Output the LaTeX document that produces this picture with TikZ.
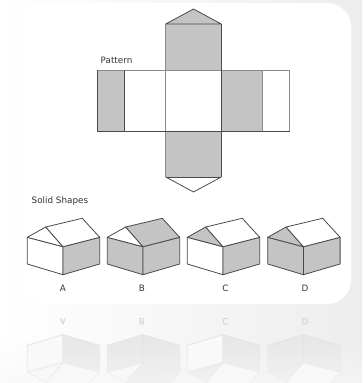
\documentclass[tikz,border=0pt]{standalone}
\usepackage{fontspec}
\usetikzlibrary{fadings}
\setmainfont{DejaVu Sans}
\definecolor{panelgray}{HTML}{C4C4C4}
\definecolor{linedark}{HTML}{4A4A4A}
\definecolor{linesoft}{HTML}{8A8A8A}
\definecolor{textcol}{HTML}{333333}
\colorlet{facegray}{panelgray}
\colorlet{facewhite}{white}
\colorlet{edgecol}{linedark}
\colorlet{labelcol}{textcol}
\tikzfading[name=fadedown,top color=transparent!100,bottom color=transparent!35]
\tikzset{
  x=1pt,y=-1pt,
  edge/.style={draw=edgecol,line width=0.8pt,line join=round},
  soft/.style={draw=linesoft,line width=1pt,line join=round},
  lbl/.style={font=\fontsize{8.8pt}{10pt}\selectfont,text=labelcol,inner sep=0pt},
}
% #1 x offset, #2 left wall, #3 right wall, #4 gable, #5 roof
\newcommand{\myhouse}[5]{%
  \begin{scope}[xshift=#1pt]
    \coordinate (L) at (27.3,237.3);
    \coordinate (Ra) at (45.7,227);
    \coordinate (Rb) at (82.3,218.3);
    \coordinate (C) at (99.7,237.3);
    \coordinate (F) at (63,246.7);
    \coordinate (B) at (63,274.7);
    \coordinate (BL) at (27.3,264);
    \coordinate (BR) at (99.7,264);
    \path[edge,fill=#2] (L) -- (F) -- (B) -- (BL) -- cycle;
    \path[edge,fill=#3] (F) -- (C) -- (BR) -- (B) -- cycle;
    \path[edge,fill=#4] (L) -- (Ra) -- (F) -- cycle;
    \path[edge,fill=#5] (Ra) -- (Rb) -- (C) -- (F) -- cycle;
  \end{scope}}
\newcommand{\allhouses}{%
  \myhouse{0}{facewhite}{facegray}{facewhite}{facewhite}
  \myhouse{80}{facegray}{facegray}{facewhite}{facegray}
  \myhouse{160}{facewhite}{facegray}{facegray}{facewhite}
  \myhouse{240.4}{facegray}{facegray}{facegray}{facewhite}}
\begin{document}
\begin{tikzpicture}
\useasboundingbox (0,0) rectangle (362,383);
\clip (0,0) rectangle (362,383);
% background
\shade[left color=white,right color=black!7] (0,0) rectangle (362,383);
% reflection
\begin{scope}[yshift=-609.4pt,yscale=-1]
  \colorlet{facegray}{black!9}
  \colorlet{facewhite}{black!2}
  \colorlet{edgecol}{black!11}
  \colorlet{labelcol}{black!20}
  \allhouses
  \node[lbl,transform shape] (refA) at (63,288) {A};
  \node[lbl,transform shape] (refB) at (142,288) {B};
  \node[lbl,transform shape] (refC) at (225.5,288) {C};
  \node[lbl,transform shape] (refD) at (305,288) {D};
\end{scope}
% the reflection fades out downwards
\fill[black!3,path fading=fadedown] (0,340) rectangle (362,383);
% white card
\fill[white,rounded corners=24pt] (20,3) rectangle (351,304);
% pattern
\fill[panelgray] (97.5,70) rectangle (124.5,131);
\fill[panelgray] (221.3,70) rectangle (262.7,131);
\fill[panelgray] (165.7,24) rectangle (221.3,70);
\fill[panelgray] (165.7,131) rectangle (221.3,177);
\fill[panelgray] (165.7,24) -- (193.5,9) -- (221.3,24) -- cycle;
\draw[soft] (97.5,70) -- (289.7,70) -- (289.7,131);
\draw[soft] (165.7,24) -- (165.7,177);
\draw[soft] (262.7,70) -- (262.7,131);
\draw[edge] (165.7,24) -- (193.5,9) -- (221.3,24) -- cycle;
\draw[edge] (221.3,24) -- (221.3,177);
\draw[edge] (97.5,70) -- (97.5,131) -- (289.7,131);
\draw[edge] (124.5,70) -- (124.5,131);
\draw[edge] (165.7,177) -- (221.3,177);
\draw[edge] (165.7,177) -- (193.5,192) -- (221.3,177);
\node[lbl,anchor=base west] (pat) at (100.5,63) {Pattern};
\node[lbl,anchor=base west] (sol) at (31.5,203) {Solid Shapes};
% solid shapes
\allhouses
\node[lbl] (la) at (63,288) {A};
\node[lbl] (lb) at (142,288) {B};
\node[lbl] (lc) at (225.5,288) {C};
\node[lbl] (ld) at (305,288) {D};
\end{tikzpicture}
\end{document}
